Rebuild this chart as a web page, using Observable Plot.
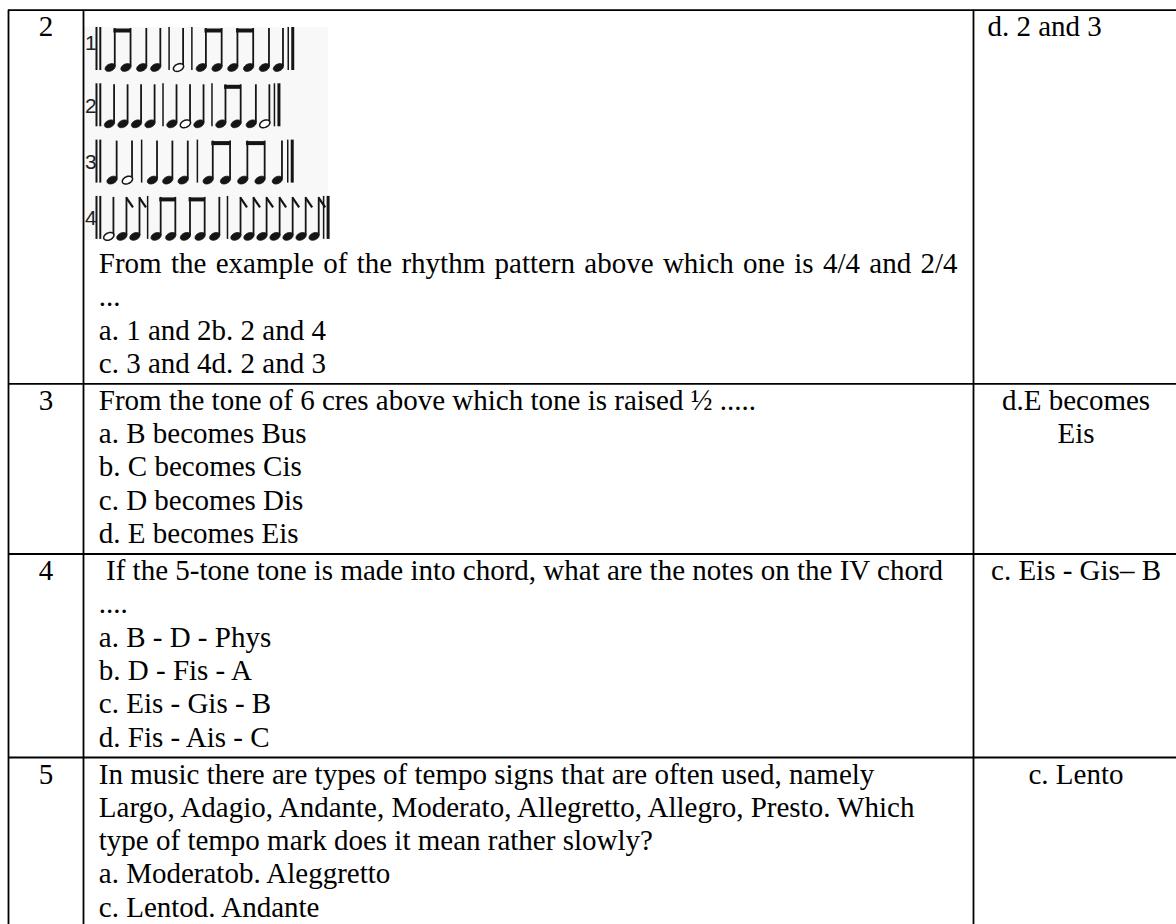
<!DOCTYPE html>
<html>
<head>
<meta charset="utf-8">
<script src="https://cdn.jsdelivr.net/npm/d3@7"></script>
<script src="https://cdn.jsdelivr.net/npm/@observablehq/plot@0.6"></script>
<style>
  html, body { margin: 0; padding: 0; background: #fff; overflow: hidden; }
  #chart svg { display: block; }
</style>
</head>
<body>
<div id="chart"></div>
<script>
// ---------------- data ----------------
const rowNumbers = ["2", "3", "4", "5"];
const questionLines = [
  ["From the example of the rhythm pattern above which one is 4/4 and 2/4", "...", "a. 1 and 2b. 2 and 4", "c. 3 and 4d. 2 and 3"],
  ["From the tone of 6 cres above which tone is raised \u00bd .....", "a. B becomes Bus", "b. C becomes Cis", "c. D becomes Dis", "d. E becomes Eis"],
  ["\u00a0If the 5-tone tone is made into chord, what are the notes on the IV chord", "....", "a. B - D - Phys", "b. D - Fis - A", "c. Eis - Gis - B", "d. Fis - Ais - C"],
  ["In music there are types of tempo signs that are often used, namely", "Largo, Adagio, Andante, Moderato, Allegretto, Allegro, Presto. Which", "type of tempo mark does it mean rather slowly?", "a. Moderatob. Aleggretto", "c. Lentod. Andante"]
];
const answerLines = [["d. 2 and 3"], ["d.E becomes", "Eis"], ["c. Eis - Gis\u2013 B"], ["c. Lento"]];
const answerAlign = ["start", "middle", "middle", "middle"];
const justifiedLines = [[0, 0]]; // [row, line]
// rhythm picture: D = opening double bar, B = bar line, q = quarter, h = half,
// e = flagged eighth, bp = beamed pair of eighths, E = final double bar
const rhythmLabels = ["1", "2", "3", "4"];
const rhythmPatterns = [
  "D bp q q B h B bp bp q q E",
  "D q q q q B q h q B bp q h E",
  "D q h B q q q B bp bp q E",
  "D h e e B bp bp q B e e e e e e e E"
];

// ---------------- layout ----------------
const W = 1176, H = 924;
const FS = 29, LH = 33.3, PAD = 3.7, BASE = 26;
const colX = [8, 83, 973, 1178];
const tableTop = 9.7;
const imageBlock = 236.7;
const img = {x1: 84, x2: 328, y1: 27, y2: 240};
const rhythmTop0 = 28, rhythmPitch = 56.3, stemLen = 39;
const rhythmStart = 95, rhythmEnds = [293, 279, 293, 328];
const textPadL = 15.3;
const ink = "#151515";

// row geometry
const rowTops = [tableTop];
questionLines.forEach((lines, i) => {
  rowTops.push(rowTops[i] + (i === 0 ? imageBlock : 0) + lines.length * LH + PAD);
});
const tableBottom = rowTops[rowTops.length - 1];

const hRules = rowTops.map(y => ({y, x1: colX[0], x2: colX[3]}));
const vRules = colX.map(x => ({x, y1: tableTop, y2: tableBottom}));

const numberText = rowNumbers.map((t, i) => ({x: (colX[0] + colX[1]) / 2, y: rowTops[i] + BASE, text: t}));
const qText = [], qJust = [];
questionLines.forEach((lines, i) => {
  const blockTop = rowTops[i] + (i === 0 ? imageBlock : 0);
  lines.forEach((t, j) => {
    const d = {x: colX[1] + textPadL, y: blockTop + BASE + j * LH, text: t};
    (justifiedLines.some(([r, l]) => r === i && l === j) ? qJust : qText).push(d);
  });
});
const aLeft = [], aMid = [];
answerLines.forEach((lines, i) => {
  lines.forEach((t, j) => {
    const y = rowTops[i] + BASE + j * LH;
    if (answerAlign[i] === "start") aLeft.push({x: colX[2] + 14, y, text: t});
    else aMid.push({x: (colX[2] + colX[3]) / 2, y, text: t});
  });
});

// rhythm geometry
const ADV = {D: 12, B: 10, q: 16, h: 16, e: 16, bp: 36, E: 6};
const stems = [], fheads = [], hheads = [], thinBars = [], thickBars = [], beams = [], flags = [], labels = [];
rhythmPatterns.forEach((pat, r) => {
  const tokens = pat.split(" ");
  const top = rhythmTop0 + r * rhythmPitch;
  const headY = top + stemLen;
  let total = 0;
  tokens.forEach(t => total += ADV[t]);
  const s = (rhythmEnds[r] - rhythmStart) / total;
  const X = u => rhythmStart + u * s;
  labels.push({x: 84.5, y: top + (r === 0 ? 21 : 28), text: rhythmLabels[r]});
  let u = 0;
  const note = (sx, kind) => {
    stems.push({x: sx, y1: top, y2: headY - 1});
    (kind === "h" ? hheads : fheads).push({x: sx - 4.6, y: headY});
    if (kind === "e") flags.push({x1: sx, y1: top + 0.5, x2: sx + 6.5, y2: top + 10});
  };
  tokens.forEach(t => {
    if (t === "D") {
      thickBars.push({x: X(u) + 1, y1: top - 1, y2: headY + 3, w: 2});
      thickBars.push({x: X(u) + 4.8, y1: top - 1, y2: headY + 3, w: 2});
    } else if (t === "B") {
      thinBars.push({x: X(u + 4), y1: top - 1, y2: headY + 3});
    } else if (t === "E") {
      thinBars.push({x: X(u), y1: top - 1, y2: headY + 3});
      thickBars.push({x: X(u) + 4.5, y1: top - 1, y2: headY + 3, w: 3});
    } else if (t === "bp") {
      const a = X(u + 10), b = X(u + 28);
      note(a, "q"); note(b, "q");
      beams.push({x1: a - 0.9, x2: b + 0.9, y: top + 2});
    } else {
      note(X(u + 10), t);
    }
    u += ADV[t];
  });
});

function ellipseSymbol(rx, ry, deg) {
  const a = deg * Math.PI / 180, c = Math.cos(a), sn = Math.sin(a);
  return {
    draw(ctx) {
      const N = 32;
      for (let k = 0; k <= N; k++) {
        const t = 2 * Math.PI * k / N;
        const ex = rx * Math.cos(t), ey = ry * Math.sin(t);
        const px = ex * c - ey * sn, py = ex * sn + ey * c;
        if (k === 0) ctx.moveTo(px, py); else ctx.lineTo(px, py);
      }
      ctx.closePath();
    }
  };
}
const headSym = ellipseSymbol(5.4, 3.5, -25);

const serif = "'Liberation Serif', 'Times New Roman', Times, serif";

const plot = Plot.plot({
  width: W, height: H, margin: 0,
  style: {background: "#fff"},
  x: {domain: [0, W], range: [0, W], axis: null},
  y: {domain: [0, H], range: [0, H], axis: null},
  marks: [
    // picture background
    Plot.rect([img], {x1: "x1", x2: "x2", y1: "y1", y2: "y2", fill: "#f8f8f8"}),
    // rhythm notation
    Plot.ruleX(thinBars, {x: "x", y1: "y1", y2: "y2", stroke: ink, strokeWidth: 1.5}),
    Plot.ruleX(thickBars, {x: "x", y1: "y1", y2: "y2", stroke: ink, strokeWidth: d => d.w}),
    Plot.ruleX(stems, {x: "x", y1: "y1", y2: "y2", stroke: ink, strokeWidth: 1.8}),
    Plot.ruleY(beams, {y: "y", x1: "x1", x2: "x2", stroke: ink, strokeWidth: 4}),
    Plot.link(flags, {x1: "x1", y1: "y1", x2: "x2", y2: "y2", stroke: ink, strokeWidth: 2.2}),
    Plot.dot(fheads, {x: "x", y: "y", symbol: headSym, fill: ink, stroke: ink, strokeWidth: 0.8}),
    Plot.dot(hheads, {x: "x", y: "y", symbol: headSym, fill: "#fff", stroke: ink, strokeWidth: 1.5}),
    Plot.text(labels, {x: "x", y: "y", text: "text", textAnchor: "start", lineAnchor: "bottom",
      fontFamily: "'Liberation Sans', Arial, sans-serif", fontSize: 21, fill: "#222"}),
    // table grid
    Plot.ruleY(hRules, {y: "y", x1: "x1", x2: "x2", stroke: "#000", strokeWidth: 1.8}),
    Plot.ruleX(vRules, {x: "x", y1: "y1", y2: "y2", stroke: "#000", strokeWidth: 1.8}),
    // texts
    Plot.text(numberText, {x: "x", y: "y", text: "text", textAnchor: "middle", lineAnchor: "bottom",
      fontFamily: serif, fontSize: FS, fill: "#000"}),
    Plot.text(qText, {x: "x", y: "y", text: "text", textAnchor: "start", lineAnchor: "bottom",
      fontFamily: serif, fontSize: FS, fill: "#000"}),
    Plot.text(qJust, {x: "x", y: "y", text: "text", textAnchor: "start", lineAnchor: "bottom",
      fontFamily: serif, fontSize: FS, fill: "#000"}),
    Plot.text(aLeft, {x: "x", y: "y", text: "text", textAnchor: "start", lineAnchor: "bottom",
      fontFamily: serif, fontSize: FS, fill: "#000"}),
    Plot.text(aMid, {x: "x", y: "y", text: "text", textAnchor: "middle", lineAnchor: "bottom",
      fontFamily: serif, fontSize: FS, fill: "#000"})
  ]
});

document.getElementById("chart").append(plot);

const justifyTarget = (colX[2] - 16) - (colX[1] + textPadL);
const justTexts = new Set(qJust.map(d => d.text));
function justify() {
  plot.querySelectorAll("text").forEach(t => {
    if (!justTexts.has(t.textContent)) return;
    t.removeAttribute("textLength");
    t.removeAttribute("lengthAdjust");
    t.style.wordSpacing = "0px";
    const natural = t.getComputedTextLength();
    const spaces = (t.textContent.match(/ /g) || []).length;
    if (!spaces || justifyTarget <= natural) return;
    const ws = (justifyTarget - natural) / spaces;
    t.style.wordSpacing = ws + "px";
    t.setAttribute("word-spacing", ws);
    const after = t.getComputedTextLength();
    if (after < justifyTarget - 3) {
      t.style.wordSpacing = "0px";
      t.setAttribute("textLength", justifyTarget);
      t.setAttribute("lengthAdjust", "spacing");
    }
  });
}
justify();
if (document.fonts && document.fonts.ready) document.fonts.ready.then(justify);
</script>
</body>
</html>
